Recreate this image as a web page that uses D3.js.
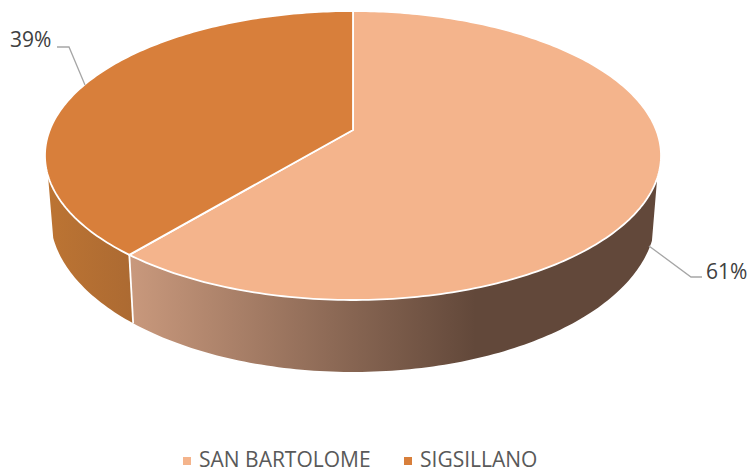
<!DOCTYPE html>
<html>
<head>
<meta charset="utf-8">
<script src="https://cdn.jsdelivr.net/npm/d3@7"></script>
<style>
  html, body { margin: 0; padding: 0; background: #fff; }
  svg { display: block; }
  text { font-family: "Open Sans", sans-serif; }
</style>
</head>
<body>
<script>
// Chart data
var categories = ["SAN BARTOLOME", "SIGSILLANO"];
var shares = [61, 39];
var percentLabels = ["61%", "39%"];

var svgWidth = 749;
var svgHeight = 470;

var topColors = ["#F4B48C", "#D87F3B"];

var svg = d3.select("body")
  .append("svg")
  .attr("width", svgWidth)
  .attr("height", svgHeight);

// Slice angles, clockwise from 12 o'clock
var slices = d3.pie().sort(null)(shares);

// The pie is tilted with perspective, so the circle is projected and its
// centre does not sit in the middle of the ellipse
var tilt = 0.1765;
var topRim = { cx: 353, cy: 130, a: 303.2, b: 140 };
var bottomRim = { cx: 353, cy: 188.6, a: 298, b: 151 };

function project(rim, angle) {
  var u = Math.sin(angle);
  var v = Math.cos(angle);
  var w = 1 + tilt * v;
  return [rim.cx + rim.a * u / w, rim.cy - rim.b * v / w];
}

function rimPoints(rim, from, to) {
  var n = Math.max(2, Math.ceil(Math.abs(to - from) * 60));
  return d3.range(n + 1).map(function(i) {
    return project(rim, from + (to - from) * i / n);
  });
}

var line = d3.line();
var deg = Math.PI / 180;

// Where the side wall starts and stops being visible
var wallStart = 109 * deg;
var wallEnd = 252 * deg;

var defs = svg.append("defs");

var wallGradient = defs.append("linearGradient")
  .attr("id", "wall-0")
  .attr("gradientUnits", "userSpaceOnUse")
  .attr("x1", 133).attr("x2", 660).attr("y1", 0).attr("y2", 0);
wallGradient.append("stop").attr("offset", 0).attr("stop-color", "#C8987C");
wallGradient.append("stop").attr("offset", 0.65).attr("stop-color", "#62483A");
wallGradient.append("stop").attr("offset", 1).attr("stop-color", "#62483A");

var wallGradient2 = defs.append("linearGradient")
  .attr("id", "wall-1")
  .attr("gradientUnits", "userSpaceOnUse")
  .attr("x1", 48).attr("x2", 133).attr("y1", 0).attr("y2", 0);
wallGradient2.append("stop").attr("offset", 0).attr("stop-color", "#BC7433");
wallGradient2.append("stop").attr("offset", 1).attr("stop-color", "#AC6A32");

// Side walls
var walls = [
  [wallStart, slices[0].endAngle],
  [slices[1].startAngle, wallEnd]
];

svg.selectAll(".wall")
  .data(walls)
  .enter()
  .append("path")
  .attr("class", "wall")
  .attr("d", function(d) {
    return line(rimPoints(topRim, d[0], d[1]).concat(rimPoints(bottomRim, d[1], d[0]))) + "Z";
  })
  .attr("fill", function(d, i) { return "url(#wall-" + i + ")"; });

// White seam between the two walls
svg.append("path")
  .attr("d", line([project(topRim, slices[0].endAngle), project(bottomRim, slices[0].endAngle)]))
  .attr("stroke", "#fff")
  .attr("stroke-width", 1.8)
  .attr("fill", "none");

// Top face
svg.selectAll(".slice")
  .data(slices)
  .enter()
  .append("path")
  .attr("class", "slice")
  .attr("d", function(d) {
    var pts = [[topRim.cx, topRim.cy]].concat(rimPoints(topRim, d.startAngle, d.endAngle));
    return line(pts) + "Z";
  })
  .attr("fill", function(d, i) { return topColors[i]; })
  .attr("stroke", "#fff")
  .attr("stroke-width", 1.8)
  .attr("stroke-linejoin", "round");

// Leader lines
var leaders = [
  [[649, 246], [691, 277], [702, 277]],
  [[85, 85], [69, 47], [57, 47]]
];

svg.selectAll(".leader")
  .data(leaders)
  .enter()
  .append("path")
  .attr("class", "leader")
  .attr("d", line)
  .attr("fill", "none")
  .attr("stroke", "#A6A6A6")
  .attr("stroke-width", 1.3);

// Percent labels
var labelPositions = [[706, 279], [10, 47]];

svg.selectAll(".pct")
  .data(percentLabels)
  .enter()
  .append("text")
  .attr("class", "pct")
  .attr("x", function(d, i) { return labelPositions[i][0]; })
  .attr("y", function(d, i) { return labelPositions[i][1]; })
  .attr("font-size", 21)
  .attr("fill", "#404040")
  .text(function(d) { return d; });

// Legend
var legendX = [183, 404];
var legendTextX = [199, 420];

svg.selectAll(".swatch")
  .data(categories)
  .enter()
  .append("rect")
  .attr("class", "swatch")
  .attr("x", function(d, i) { return legendX[i]; })
  .attr("y", 457)
  .attr("width", 8)
  .attr("height", 8)
  .attr("fill", function(d, i) { return topColors[i]; });

// Baseline sits low like the reference, capitals have no descenders so nothing is clipped
svg.selectAll(".legend-label")
  .data(categories)
  .enter()
  .append("text")
  .attr("class", "legend-label")
  .attr("x", function(d, i) { return legendTextX[i]; })
  .attr("y", 467)
  .attr("font-size", 21)
  .attr("fill", "#595959")
  .text(function(d) { return d; });
</script>
</body>
</html>
